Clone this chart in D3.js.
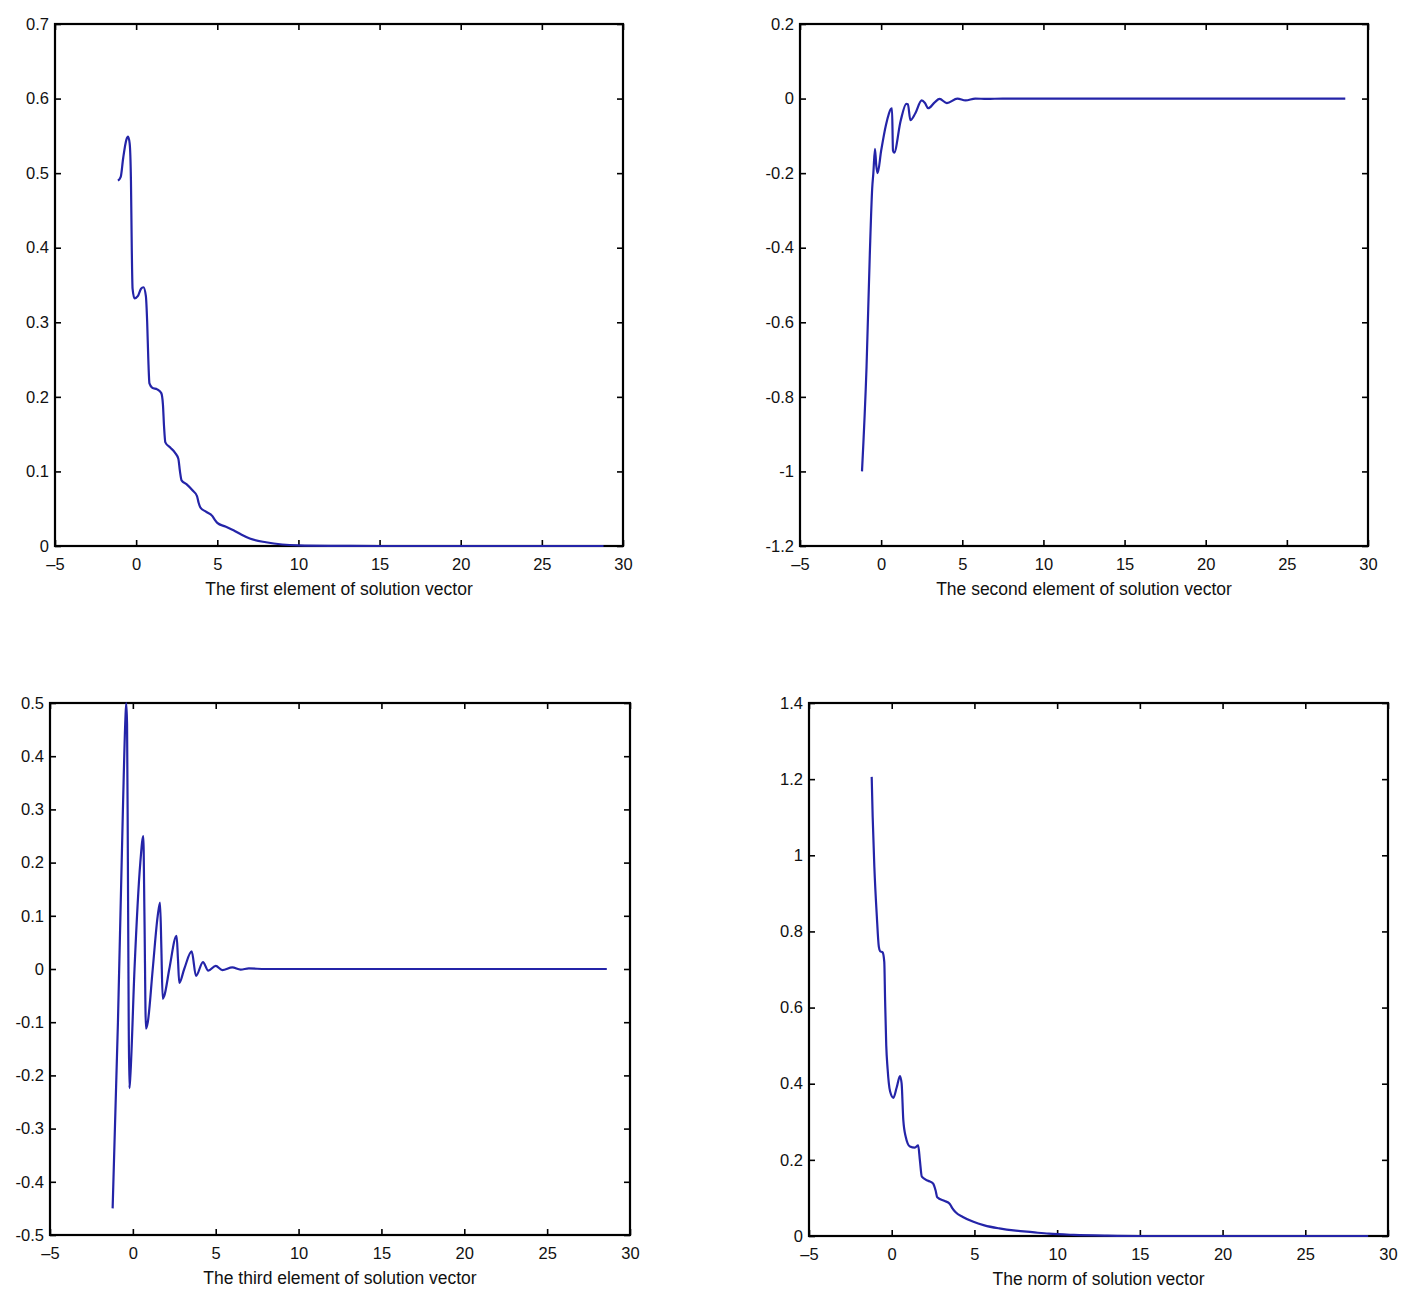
<!DOCTYPE html>
<html>
<head>
<meta charset="utf-8">
<script src="https://cdn.jsdelivr.net/npm/d3@7"></script>
<style>
  body { margin: 0; background: #fff; }
  svg text { font-family: "Liberation Sans", Arial, sans-serif; fill: #111; }
</style>
</head>
<body>
<div id="graph"></div>
<script>
// values, [t, value]
var firstElem = [[-1.12,0.49],[-0.95,0.495],[-0.8,0.52],[-0.6,0.545],[-0.5,0.549],[-0.4,0.54],[-0.32,0.49],
  [-0.27,0.40],[-0.22,0.345],[-0.1,0.332],[0.1,0.335],[0.3,0.345],[0.45,0.347],[0.6,0.335],[0.68,0.30],
  [0.75,0.25],[0.82,0.218],[1.0,0.212],[1.3,0.21],[1.55,0.205],[1.65,0.19],[1.72,0.16],[1.8,0.139],
  [2.1,0.132],[2.4,0.125],[2.6,0.117],[2.7,0.10],[2.8,0.088],[3.1,0.083],[3.5,0.074],[3.75,0.067],
  [3.85,0.058],[3.95,0.052],[4.3,0.046],[4.7,0.040],[4.85,0.035],[5.0,0.031],[5.5,0.026],[6.0,0.021],
  [6.5,0.015],[7.0,0.010],[8,0.005],[9,0.002],[10,0.0008],[12,0.0002],[15,0],[20,0],[25,0],[28.8,0]];

var secondElem = [[-1.18,-1.0],[-0.9,-0.72],[-0.7,-0.42],[-0.55,-0.24],[-0.48,-0.20],[-0.38,-0.135],
  [-0.3,-0.18],[-0.22,-0.2],[0.0,-0.14],[0.3,-0.07],[0.6,-0.028],[0.67,-0.026],[0.73,-0.14],[0.8,-0.145],
  [1.2,-0.06],[1.55,-0.014],[1.65,-0.015],[1.8,-0.058],[2.1,-0.04],[2.5,-0.005],[2.7,-0.012],[2.9,-0.026],
  [3.3,-0.01],[3.6,-0.001],[4.05,-0.012],[4.7,0],[5.2,-0.005],[5.8,0],[6.5,-0.001],[7.5,0],[10,0],
  [15,0],[20,0],[25,0],[28.6,0]];

var thirdElem = [[-1.22,-0.45],[-0.9,-0.1],[-0.6,0.3],[-0.45,0.47],[-0.4,0.5],[-0.35,0.46],[-0.3,0.2],
  [-0.25,-0.1],[-0.21,-0.224],[-0.15,-0.2],[0.1,0.0],[0.45,0.2],[0.63,0.25],[0.7,0.1],[0.79,-0.112],
  [0.9,-0.1],[1.2,0.0],[1.5,0.1],[1.64,0.125],[1.72,0.04],[1.8,-0.056],[1.9,-0.05],[2.2,0.0],[2.64,0.0625],
  [2.72,0.02],[2.8,-0.026],[3.1,0.0],[3.55,0.033],[3.81,-0.013],[4.23,0.013],[4.55,-0.003],[5.0,0.006],
  [5.4,-0.002],[6.0,0.003],[6.5,-0.001],[7,0.001],[8,0],[10,0],[15,0],[20,0],[25,0],[28.6,0]];

var normVec = [[-1.21,1.206],[-1.15,1.1],[-1.05,0.97],[-0.9,0.84],[-0.78,0.76],[-0.7,0.748],[-0.55,0.745],
  [-0.45,0.72],[-0.4,0.62],[-0.33,0.5],[-0.25,0.44],[-0.1,0.38],[0.1,0.363],[0.3,0.39],[0.5,0.42],
  [0.6,0.40],[0.7,0.305],[0.85,0.26],[1.1,0.235],[1.4,0.232],[1.6,0.238],[1.7,0.2],[1.82,0.156],
  [2.2,0.145],[2.5,0.138],[2.65,0.12],[2.75,0.102],[3.2,0.092],[3.5,0.085],[3.65,0.074],[3.85,0.063],
  [4.3,0.05],[4.9,0.038],[5.6,0.028],[6.5,0.02],[7.5,0.014],[8.5,0.01],[9.5,0.006],[11,0.003],
  [13,0.001],[15,0],[20,0],[25,0],[28.8,0]];

// tick labels
var xTicks = [-5, 0, 5, 10, 15, 20, 25, 30];
var yTicks1 = [0, 0.1, 0.2, 0.3, 0.4, 0.5, 0.6, 0.7];
var yTicks2 = [-1.2, -1, -0.8, -0.6, -0.4, -0.2, 0, 0.2];
var yTicks3 = [-0.5, -0.4, -0.3, -0.2, -0.1, 0, 0.1, 0.2, 0.3, 0.4, 0.5];
var yTicks4 = [0, 0.2, 0.4, 0.6, 0.8, 1, 1.2, 1.4];

var labels = ["The first element of solution vector", "The second element of solution vector",
  "The third element of solution vector", "The norm of solution vector"];

var svg = d3.select("#graph").append("svg")
  .attr("width", 1411)
  .attr("height", 1291);

function fmt(d){
  return String(Math.round(d * 10) / 10);
}

function fmtX(d){
  return String(d).replace("-", "\u2013");
}

function drawPanel(box, data, yTicks, label){
  var x = d3.scaleLinear().domain([-5, 30]).range([box.left, box.right]);
  var y = d3.scaleLinear().domain([yTicks[0], yTicks[yTicks.length - 1]]).range([box.bottom, box.top]);

  var g = svg.append("g");

  // inward ticks on all four sides, labels only on bottom / left
  g.append("g")
    .attr("transform", "translate(0," + box.bottom + ")")
    .call(d3.axisBottom(x).tickValues(xTicks).tickSizeInner(-6).tickSizeOuter(0).tickPadding(12).tickFormat(fmtX));
  g.append("g")
    .attr("transform", "translate(0," + box.top + ")")
    .call(d3.axisTop(x).tickValues(xTicks).tickSizeInner(-6).tickSizeOuter(0).tickFormat(""));
  g.append("g")
    .attr("transform", "translate(" + box.left + ",0)")
    .call(d3.axisLeft(y).tickValues(yTicks).tickSizeInner(-6).tickSizeOuter(0).tickPadding(6).tickFormat(fmt));
  g.append("g")
    .attr("transform", "translate(" + box.right + ",0)")
    .call(d3.axisRight(y).tickValues(yTicks).tickSizeInner(-6).tickSizeOuter(0).tickFormat(""));

  g.selectAll(".domain").remove();
  g.selectAll(".tick line").attr("stroke", "#000").attr("stroke-width", 1.6);
  g.selectAll(".tick text").attr("font-size", 16.5).attr("fill", "#111")
    .attr("font-family", "Liberation Sans, Arial, sans-serif");

  g.append("rect")
    .attr("x", box.left).attr("y", box.top)
    .attr("width", box.right - box.left).attr("height", box.bottom - box.top)
    .attr("fill", "none").attr("stroke", "#000").attr("stroke-width", 2.2);

  var line = d3.line()
    .x(function(d){ return x(d[0]); })
    .y(function(d){ return y(d[1]); })
    .curve(d3.curveMonotoneX);

  g.append("path")
    .datum(data)
    .attr("d", line)
    .attr("fill", "none")
    .attr("stroke", "#2424a8")
    .attr("stroke-width", 2.2)
    .attr("stroke-linejoin", "round");

  g.append("text")
    .attr("x", (box.left + box.right) / 2)
    .attr("y", box.bottom + 49)
    .attr("text-anchor", "middle")
    .attr("font-size", 17.5)
    .text(label);
}

drawPanel({left: 55, right: 623, top: 24, bottom: 546}, firstElem, yTicks1, labels[0]);
drawPanel({left: 800, right: 1368, top: 24, bottom: 546}, secondElem, yTicks2, labels[1]);
drawPanel({left: 50, right: 630, top: 703, bottom: 1235}, thirdElem, yTicks3, labels[2]);
drawPanel({left: 809, right: 1388, top: 703, bottom: 1236}, normVec, yTicks4, labels[3]);
</script>
</body>
</html>
